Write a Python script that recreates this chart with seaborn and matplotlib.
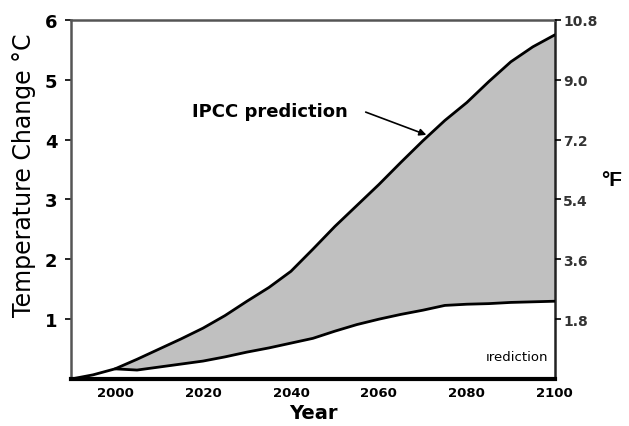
import matplotlib
matplotlib.use("Agg")
import matplotlib.pyplot as plt
import seaborn as sns
import pandas as pd
import numpy as np

years_upper = [1990, 1995, 2000, 2005, 2010, 2015, 2020, 2025, 2030, 2035, 2040,
               2045, 2050, 2055, 2060, 2065, 2070, 2075, 2080, 2085, 2090, 2095, 2100]
upper = [0.0, 0.07, 0.17, 0.33, 0.5, 0.67, 0.85, 1.06, 1.3, 1.53, 1.8,
         2.17, 2.55, 2.9, 3.25, 3.62, 3.98, 4.32, 4.62, 4.97, 5.3, 5.55, 5.75]
years_lower = [2000, 2005, 2010, 2015, 2020, 2025, 2030, 2035, 2040, 2045, 2050,
               2055, 2060, 2065, 2070, 2075, 2080, 2085, 2090, 2095, 2100]
lower = [0.17, 0.15, 0.2, 0.25, 0.3, 0.37, 0.45, 0.52, 0.6, 0.68, 0.8,
         0.91, 1.0, 1.08, 1.15, 1.23, 1.25, 1.26, 1.28, 1.29, 1.3]

x_ticks = [2000, 2020, 2040, 2060, 2080, 2100]
y_ticks = [1, 2, 3, 4, 5, 6]
f_ticks = [1.8, 3.6, 5.4, 7.2, 9.0, 10.8]

sns.set_style("white")
plt.rcParams['font.family'] = ['DejaVu Sans']
plt.rcParams['text.color'] = 'black'
plt.rcParams['axes.labelcolor'] = 'black'
plt.rcParams['xtick.color'] = 'black'
plt.rcParams['ytick.color'] = 'black'

fig = plt.figure(figsize=(6.29, 4.27), dpi=100)
ax = fig.add_axes([0.113, 0.110, 0.769, 0.841])

df_u = pd.DataFrame({"year": years_upper, "temp": upper})
df_l = pd.DataFrame({"year": years_lower, "temp": lower})

yu_interp = np.interp(years_lower, years_upper, upper)
ax.fill_between(years_lower, lower, yu_interp, color="#c0c0c0", linewidth=0, zorder=1)

sns.lineplot(data=df_u, x="year", y="temp", ax=ax, color="black", linewidth=2, zorder=3)
sns.lineplot(data=df_l, x="year", y="temp", ax=ax, color="black", linewidth=2, zorder=3)

ax.set_xlim(1990, 2100)
ax.set_ylim(0, 6)
ax.set_xticks(x_ticks)
ax.set_xticks([2010, 2030, 2050, 2070, 2090], minor=True)
ax.set_xticklabels([str(t) for t in x_ticks], fontsize=9.5, fontweight="bold")
ax.set_yticks(y_ticks)
ax.set_yticklabels([str(t) for t in y_ticks], fontsize=13, fontweight="bold")
ax.tick_params(axis="x", which="major", direction="in", length=4, width=1, pad=5)
ax.tick_params(axis="x", which="minor", direction="in", length=4, width=1)
ax.tick_params(axis="y", direction="out", length=4, width=1.2, pad=6)

ax.set_xlabel("Year", fontsize=14, fontweight="bold", labelpad=3)
ax.set_ylabel("Temperature Change °C", fontsize=17)
ax.yaxis.set_label_coords(-0.072, 0.569)

for side in ["left", "top", "right"]:
    ax.spines[side].set_color("#555555")
    ax.spines[side].set_linewidth(1.8)
ax.spines["bottom"].set_color("black")
ax.spines["bottom"].set_linewidth(3)
ax.spines["right"].set_color("#222222")

ax2 = ax.twinx()
ax2.set_ylim(0, 10.8)
ax2.set_yticks(f_ticks)
ax2.set_yticklabels([f"{t:.1f}" for t in f_ticks], fontsize=10, fontweight="bold", color="#333333")
ax2.tick_params(axis="y", direction="out", length=4, width=1.2, pad=2)
ax2.set_ylabel("°F", fontsize=15, fontweight="bold", rotation=0,
               family=["Liberation Sans", "DejaVu Sans"])
ax2.yaxis.set_label_coords(1.118, 0.582)
for s in ax2.spines.values():
    s.set_visible(False)

ax.text(2017.5, 4.48, "IPCC prediction", fontsize=13, fontweight="bold",
        ha="left", va="center")
ax.annotate("", xy=(2070.8, 4.08), xytext=(2057, 4.46),
            arrowprops=dict(arrowstyle="-|>", color="black", lw=1.2,
                            shrinkA=0, shrinkB=0, mutation_scale=10))
ax.text(2098.5, 0.38, "ırediction", fontsize=9.5, ha="right", va="center", color="black")

fig.savefig("out.png", dpi=100)
